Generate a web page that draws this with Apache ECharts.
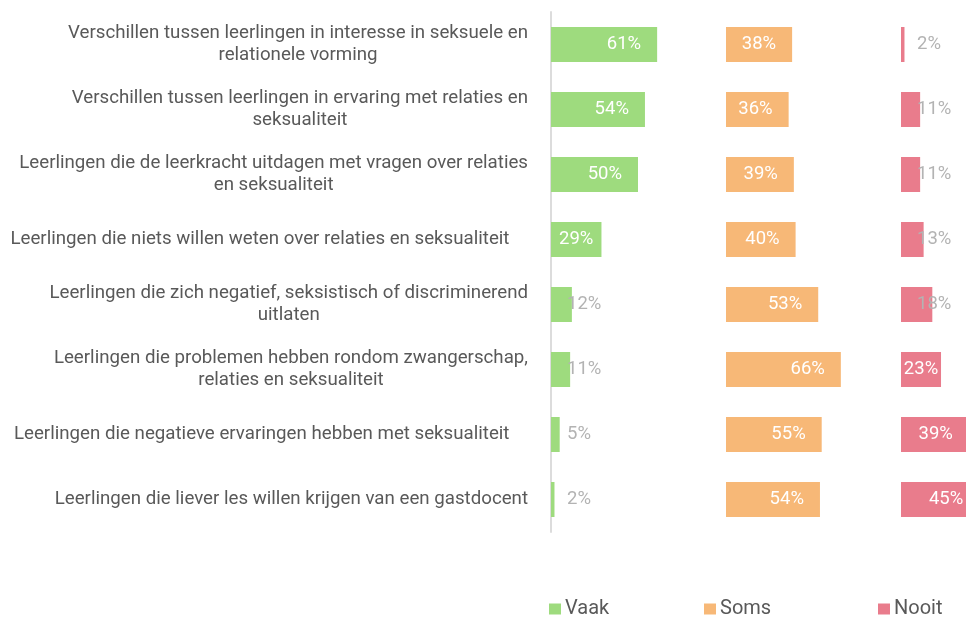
<!DOCTYPE html>
<html>
<head>
<meta charset="utf-8">
<script src="https://cdn.jsdelivr.net/npm/echarts@6/dist/echarts.min.js"></script>
<style>
html,body{margin:0;padding:0;background:#fff;}
#chart{width:966px;height:617px;}
</style>
</head>
<body>
<div id="chart"></div>
<script>
var categories = [
  "Verschillen tussen leerlingen in interesse in seksuele en\nrelationele vorming",
  "Verschillen tussen leerlingen in ervaring met relaties en\nseksualiteit",
  "Leerlingen die de leerkracht uitdagen met vragen over relaties\nen seksualiteit",
  "Leerlingen die niets willen weten over relaties en seksualiteit    ",
  "Leerlingen die zich negatief, seksistisch of discriminerend\nuitlaten",
  "Leerlingen die problemen hebben rondom zwangerschap,\nrelaties en seksualiteit",
  "Leerlingen die negatieve ervaringen hebben met seksualiteit    ",
  "Leerlingen die liever les willen krijgen van een gastdocent"
];
var seriesNames = ["Vaak", "Soms", "Nooit"];
var vaak  = [61, 54, 50, 29, 12, 11, 5, 2];
var soms  = [38, 36, 39, 40, 53, 66, 55, 54];
var nooit = [2, 11, 11, 13, 18, 23, 39, 45];

var colors = ["#9edb7e", "#f7b877", "#e97c8c"];
var panelLeft = [551, 726, 901];
var panelWidth = 174;

function labelFor(v) {
  if (v < 20) {
    return {position: "insideLeft", distance: 16, color: "#b3b3b3"};
  } else if (v < 30) {
    return {position: "inside", color: "#ffffff"};
  }
  return {position: "insideRight", distance: 16, color: "#ffffff"};
}

var allValues = [vaak, soms, nooit];
var grids = [], xAxes = [], yAxes = [], series = [], legends = [];
var legendLeft = [549, 704, 878];

for (var i = 0; i < 3; i++) {
  grids.push({left: panelLeft[i], top: 12, width: panelWidth, height: 520, outerBoundsMode: "none", containLabel: false});
  xAxes.push({type: "value", gridIndex: i, min: 0, max: 100, show: false});
  yAxes.push({
    type: "category",
    gridIndex: i,
    inverse: true,
    data: categories,
    axisTick: {show: false},
    splitLine: {show: false},
    axisLine: {show: i === 0, lineStyle: {color: "#dcdcdc", width: 2}},
    axisLabel: i === 0 ? {
      show: true,
      align: "right",
      margin: 23,
      formatter: function (val) {
        return val.split("\n").map(function (l) { return "{c|" + l + "}"; }).join("\n");
      },
      rich: {
        c: {fontFamily: "Roboto", fontSize: 18.7, color: "#595959", align: "center", lineHeight: 22}
      }
    } : {show: false}
  });
  series.push({
    name: seriesNames[i],
    type: "bar",
    xAxisIndex: i,
    yAxisIndex: i,
    barWidth: 35,
    itemStyle: {color: colors[i]},
    label: {show: true, formatter: "{c}%", fontFamily: "Roboto", fontSize: 18.5},
    data: allValues[i].map(function (v) { return {value: v, label: labelFor(v)}; })
  });
  legends.push({
    data: [seriesNames[i]],
    left: legendLeft[i],
    top: 599,
    icon: "rect",
    itemWidth: 12,
    itemHeight: 11,
    itemGap: 4,
    padding: 0,
    textStyle: {fontFamily: "Roboto", fontSize: 20, color: "#595959", padding: [0, 0, 0, -1]}
  });
}

var chart = echarts.init(document.getElementById("chart"), null, {renderer: "canvas"});
chart.setOption({
  animation: false,
  backgroundColor: "#ffffff",
  grid: grids,
  xAxis: xAxes,
  yAxis: yAxes,
  legend: legends,
  series: series
});
</script>
</body>
</html>
